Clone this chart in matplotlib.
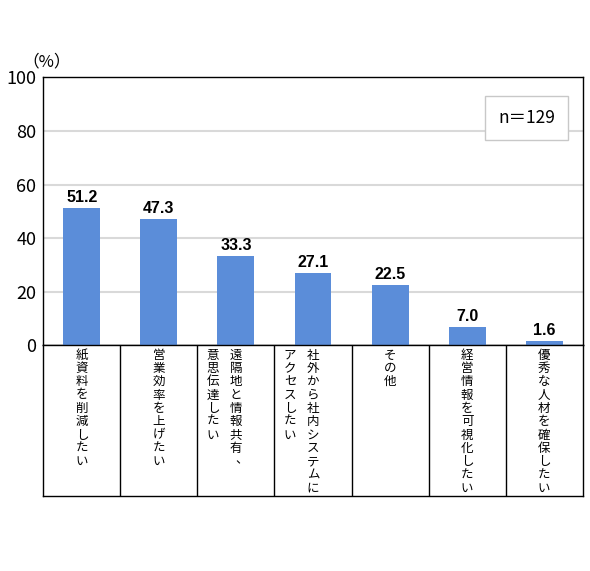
import matplotlib
matplotlib.use("Agg")
import matplotlib.pyplot as plt

plt.rcParams['font.family'] = ['Noto Sans CJK JP', 'DejaVu Sans']

categories = [
    ["紙資料を削減したい"],
    ["営業効率を上げたい"],
    ["遠隔地と情報共有、", "意思伝達したい"],
    ["社外から社内システムに", "アクセスしたい"],
    ["その他"],
    ["経営情報を可視化したい"],
    ["優秀な人材を確保したい"],
]
values = [51.2, 47.3, 33.3, 27.1, 22.5, 7.0, 1.6]
yticks = [0, 20, 40, 60, 80, 100]
n_label = "n＝129"

fig = plt.figure(figsize=(5.9, 5.71), dpi=100)
ax = fig.add_axes([0.0734, 0.3953, 0.9142, 0.4693])
tax = fig.add_axes([0.0734, 0.1319, 0.9142, 0.2634])

xs = list(range(len(values)))
ax.bar(xs, values, width=0.48, color="#5b8dd9", zorder=3)
ax.set_xlim(-0.5, len(values) - 0.5)
ax.set_ylim(0, 100)
ax.set_yticks(yticks)
ax.set_yticklabels([str(t) for t in yticks], fontsize=13)
ax.tick_params(axis='y', length=0, pad=5)
ax.tick_params(axis='x', length=0, labelbottom=False)
ax.set_xticks([])
for t in yticks[1:-1]:
    ax.axhline(t, color="#d9d9d9", lw=1.5, zorder=1)
for s in ax.spines.values():
    s.set_color("black")
    s.set_linewidth(1.0)

for x, v in zip(xs, values):
    ax.annotate(f"{v:.1f}", xy=(x, v), xytext=(0, 2), textcoords="offset points",
                ha="center", va="bottom", fontsize=11.5, fontweight="bold",
                family=["Liberation Sans", "DejaVu Sans"])

ax.text(0.007, 1.058, "（%）", transform=ax.transAxes, ha="center", va="center", fontsize=12)

ax.text(0.896, 0.848, n_label, transform=ax.transAxes, ha="center", va="center", fontsize=12.5,
        bbox=dict(boxstyle="square,pad=0.75", fc="white", ec="#c8c8c8", lw=1.0), zorder=5)

# category table
tax.set_xlim(-0.5, len(values) - 0.5)
tax.set_ylim(0, 1)
tax.set_xticks([])
tax.set_yticks([])
for s in tax.spines.values():
    s.set_color("black")
    s.set_linewidth(1.0)
for i in range(1, len(values)):
    tax.axvline(i - 0.5, color="black", lw=1.0)

pitch = 9.6  # points per character
col_gap = 16.5  # points between columns
punct_shift = {"、": (4.0, 1.5)}  # vertical-writing placement of punctuation
for i, cols in enumerate(categories):
    for c, col in enumerate(cols):
        for k, ch in enumerate(col):
            dx, dy = punct_shift.get(ch, (0, 0))
            tax.annotate(ch, xy=(i, 1), xycoords=("data", "axes fraction"),
                         xytext=(-c * col_gap + dx, -7.0 - k * pitch + dy), textcoords="offset points",
                         ha="center", va="center", fontsize=9)

fig.savefig("out.png", dpi=100)
